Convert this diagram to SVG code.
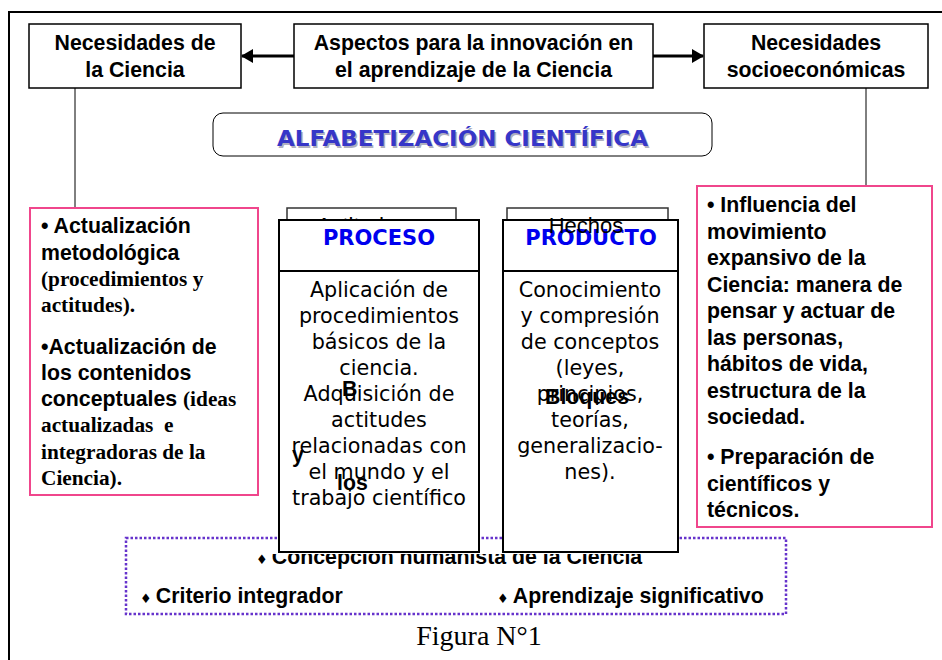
<svg xmlns="http://www.w3.org/2000/svg" width="942" height="660" viewBox="0 0 942 660">
<style>
.box{fill:#fff;stroke:#000;stroke-width:1.5}
.pink{fill:#fff;stroke:#f0468c;stroke-width:2}
.ab{font-family:"Liberation Sans",Arial,sans-serif;font-weight:bold;font-size:21.3px;fill:#000}
.ar{font-family:"Liberation Sans",Arial,sans-serif;font-size:22px;fill:#000}
.tb{font-family:"Liberation Serif","Times New Roman",serif;font-weight:bold;font-size:21.3px;fill:#000}
.vr{font-family:"DejaVu Sans",Verdana,sans-serif;font-size:20.7px;fill:#000;text-anchor:middle}
.vh{font-family:"DejaVu Sans",Verdana,sans-serif;font-weight:bold;font-size:21px;fill:#0000ee;text-anchor:middle}
.mid{text-anchor:middle}
.dia{font-family:"DejaVu Sans",sans-serif;font-size:13px;fill:#000}
.conn{stroke:#000;stroke-width:1;fill:none}
</style>
<defs>
<marker id="ah" markerUnits="userSpaceOnUse" markerWidth="12" markerHeight="14" refX="11" refY="7" orient="auto">
<path d="M0,0 L12,7 L0,14 Z" fill="#000"/>
</marker>
<clipPath id="clipC"><rect x="0" y="554" width="942" height="60"/></clipPath>
</defs>
<rect width="942" height="660" fill="#fff"/>
<path d="M9,660 V12 H942" fill="none" stroke="#000" stroke-width="2"/>

<g id="connectors">
<line x1="294" y1="56" x2="242" y2="56" stroke="#000" stroke-width="3" marker-end="url(#ah)"/>
<line x1="653" y1="56" x2="703" y2="56" stroke="#000" stroke-width="3" marker-end="url(#ah)"/>
<line class="conn" x1="75" y1="88" x2="75" y2="208"/>
<line class="conn" x1="866" y1="88" x2="866" y2="186"/>
</g>

<g id="n-ciencia">
<rect class="box" x="29" y="24" width="212" height="64"/>
<text class="ab mid" x="135" y="50">Necesidades de</text>
<text class="ab mid" x="135" y="77">la Ciencia</text>
</g>

<g id="n-aspectos">
<rect class="box" x="294" y="24" width="359" height="64"/>
<text class="ab mid" x="473.5" y="50">Aspectos para la innovación en</text>
<text class="ab mid" x="473.5" y="77">el aprendizaje de la Ciencia</text>
</g>

<g id="n-socio">
<rect class="box" x="704" y="24" width="224" height="64"/>
<text class="ab mid" x="816" y="50">Necesidades</text>
<text class="ab mid" x="816" y="77">socioeconómicas</text>
</g>

<g id="n-alfa">
<rect x="213" y="113" width="499" height="43" rx="10" fill="#fff" stroke="#000" stroke-width="1"/>
<text x="464" y="147.5" font-family="DejaVu Sans,Verdana,sans-serif" font-weight="bold" font-size="22" fill="#b0b0c0" text-anchor="middle" textLength="371" lengthAdjust="spacingAndGlyphs">ALFABETIZACIÓN CIENTÍFICA</text>
<text x="462.5" y="146" font-family="DejaVu Sans,Verdana,sans-serif" font-weight="bold" font-size="22" fill="#3636c8" text-anchor="middle" textLength="371" lengthAdjust="spacingAndGlyphs">ALFABETIZACIÓN CIENTÍFICA</text>
</g>

<g id="n-left">
<rect class="pink" x="30" y="208" width="228" height="287"/>
<text class="ab" x="41" y="233">• Actualización</text>
<text class="ab" x="41" y="260">metodológica</text>
<text class="tb" x="41" y="286">(procedimientos y</text>
<text class="tb" x="41" y="312">actitudes).</text>
<text class="ab" x="41" y="354">•Actualización de</text>
<text class="ab" x="41" y="380">los contenidos</text>
<text x="41" y="406"><tspan class="ab">conceptuales </tspan><tspan class="tb">(ideas</tspan></text>
<text class="tb" x="41" y="432" xml:space="preserve">actualizadas  e</text>
<text class="tb" x="41" y="459">integradoras de la</text>
<text class="tb" x="41" y="485">Ciencia).</text>
</g>

<g id="n-right">
<rect class="pink" x="697" y="186" width="235" height="341"/>
<text class="ab" x="707" y="212">• Influencia del</text>
<text class="ab" x="707" y="238.5">movimiento</text>
<text class="ab" x="707" y="265">expansivo de la</text>
<text class="ab" x="707" y="291.5">Ciencia: manera de</text>
<text class="ab" x="707" y="318">pensar y actuar de</text>
<text class="ab" x="707" y="344.5">las personas,</text>
<text class="ab" x="707" y="371">hábitos de vida,</text>
<text class="ab" x="707" y="397.5">estructura de la</text>
<text class="ab" x="707" y="424">sociedad.</text>
<text class="ab" x="707" y="464">• Preparación de</text>
<text class="ab" x="707" y="490.5">científicos y</text>
<text class="ab" x="707" y="517">técnicos.</text>
</g>

<g id="n-principios">
<rect x="126" y="538" width="660" height="76" fill="none" stroke="#6633cc" stroke-width="2.5" stroke-dasharray="2.5 2"/>
<g clip-path="url(#clipC)">
<text x="256" y="564"><tspan class="dia">♦ </tspan><tspan class="ab">Concepción humanista de la Ciencia</tspan></text>
</g>
<text x="140" y="603"><tspan class="dia">♦ </tspan><tspan class="ab">Criterio integrador</tspan></text>
<text x="497" y="603"><tspan class="dia">♦ </tspan><tspan class="ab">Aprendizaje significativo</tspan></text>
</g>

<g id="n-actitudes">
<rect x="287" y="208" width="169" height="60" fill="#fff" stroke="#333" stroke-width="1.5"/>
<text class="ar mid" x="362" y="233">Actitudes</text>
</g>

<g id="n-hechos-back">
<rect x="507" y="208" width="161" height="60" fill="#fff" stroke="#333" stroke-width="1.5"/>
</g>

<g id="n-proceso">
<rect x="279" y="220" width="200" height="332" fill="#fff" stroke="#000" stroke-width="2"/>
<line x1="279" y1="271" x2="479" y2="271" stroke="#000" stroke-width="2"/>
<text class="vh" x="379" y="245">PROCESO</text>
<text class="vr" x="379" y="297">Aplicación de</text>
<text class="vr" x="379" y="323">procedimientos</text>
<text class="vr" x="379" y="349">básicos de la</text>
<text class="vr" x="379" y="375">ciencia.</text>
<text class="vr" x="379" y="401">Adquisición de</text>
<text class="vr" x="379" y="427">actitudes</text>
<text class="vr" x="379" y="453">relacionadas con</text>
<text class="vr" x="379" y="479">el mundo y el</text>
<text class="vr" x="379" y="505">trabajo científico</text>
<text class="ab" x="342" y="396">B</text>
<text class="ab" x="292" y="462">y</text>
<text class="ab" x="337" y="490">los</text>
</g>

<g id="n-producto">
<rect x="503" y="220" width="175" height="332" fill="#fff" stroke="#000" stroke-width="2"/>
<line x1="503" y1="271" x2="678" y2="271" stroke="#000" stroke-width="2"/>
<text class="vh" x="591" y="245">PRODUCTO</text>
<text class="vr" x="590" y="297">Conocimiento</text>
<text class="vr" x="590" y="323">y compresión</text>
<text class="vr" x="590" y="349">de conceptos</text>
<text class="vr" x="590" y="375">(leyes,</text>
<text class="vr" x="590" y="401">principios,</text>
<text class="vr" x="590" y="427">teorías,</text>
<text class="vr" x="590" y="453">generalizacio-</text>
<text class="vr" x="590" y="479">nes).</text>
<text class="ar mid" x="586" y="233">Hechos</text>
<text class="ab" x="545" y="404">Bloques</text>
</g>

<text x="479" y="645" font-family="Liberation Serif,Times New Roman,serif" font-size="28" fill="#000" text-anchor="middle">Figura N°1</text>
</svg>
